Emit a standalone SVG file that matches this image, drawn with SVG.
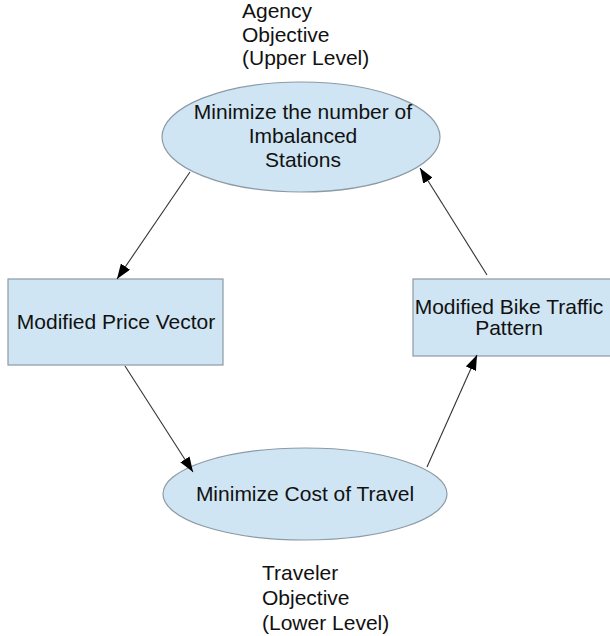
<svg xmlns="http://www.w3.org/2000/svg" width="610" height="636" viewBox="0 0 610 636">
  <style>
    .shape { fill: #cfe5f3; stroke: #8c9aa6; stroke-width: 1.2; }
    .label { font-family: "Liberation Sans", Arial, sans-serif; font-size: 21px; fill: #111; }
    .mid { text-anchor: middle; }
    .edge { stroke: #333; stroke-width: 1.1; fill: none; marker-end: url(#arrow); }
  </style>
  <defs>
    <marker id="arrow" viewBox="0 0 15 11" refX="15" refY="5.5" markerWidth="15" markerHeight="11" markerUnits="userSpaceOnUse" orient="auto">
      <path d="M0,0 L15,5.5 L0,11 Z" fill="#000"/>
    </marker>
  </defs>

  <rect width="610" height="636" fill="#fff"/>

  <!-- free-standing captions -->
  <g id="agency-caption" class="label">
    <text x="242" y="18">Agency</text>
    <text x="242" y="42">Objective</text>
    <text x="242" y="65">(Upper Level)</text>
  </g>
  <g id="traveler-caption" class="label">
    <text x="262" y="580">Traveler</text>
    <text x="262" y="605">Objective</text>
    <text x="262" y="630">(Lower Level)</text>
  </g>

  <!-- nodes -->
  <g id="upper-objective">
    <ellipse class="shape" cx="301" cy="137" rx="139" ry="55"/>
    <text class="label mid" x="303" y="119">Minimize the number of</text>
    <text class="label mid" x="303" y="143">Imbalanced</text>
    <text class="label mid" x="303" y="167">Stations</text>
  </g>
  <g id="price-vector">
    <rect class="shape" x="8" y="279" width="215" height="86"/>
    <text class="label mid" x="116" y="329">Modified Price Vector</text>
  </g>
  <g id="bike-traffic">
    <rect class="shape" x="413" y="279" width="200" height="77"/>
    <text class="label mid" x="509" y="314">Modified Bike Traffic</text>
    <text class="label mid" x="509" y="335">Pattern</text>
  </g>
  <g id="lower-objective">
    <ellipse class="shape" cx="305" cy="494" rx="142" ry="46"/>
    <text class="label mid" x="305" y="501">Minimize Cost of Travel</text>
  </g>

  <!-- connectors -->
  <g id="connectors">
    <line class="edge" x1="190" y1="172" x2="117" y2="279"/>
    <line class="edge" x1="125" y1="366" x2="193" y2="472"/>
    <line class="edge" x1="427" y1="467" x2="477" y2="355"/>
    <line class="edge" x1="487" y1="275" x2="420" y2="168"/>
  </g>
</svg>
